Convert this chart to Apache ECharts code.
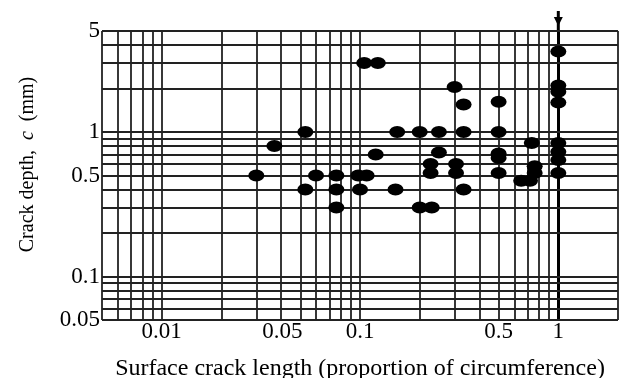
<!DOCTYPE html>
<html><head><meta charset="utf-8">
<script src="https://cdn.jsdelivr.net/npm/echarts@6/dist/echarts.min.js"></script>
<style>html,body{margin:0;padding:0;background:#fff}#c{width:622px;height:378px}</style>
</head><body><div id="c"></div>
<script>
// grid line positions (data values)
const xGrid = [0.005,0.006,0.007,0.008,0.009,0.01,0.02,0.03,0.04,0.05,0.06,0.07,0.08,0.09,0.1,0.2,0.3,0.4,0.5,0.6,0.7,0.8,0.9,1,2];
const yGrid = [0.05,0.06,0.07,0.08,0.09,0.1,0.2,0.3,0.4,0.5,0.6,0.7,0.8,0.9,1,2,3,4,5];
// tick labels
const xTickLabels = [0.01,0.05,0.1,0.5,1];
const yTickLabels = [0.05,0.1,0.5,1,5];
// data
const crackLength = [0.03,0.037,0.053,0.053,0.06,0.076,0.076,0.076,0.098,0.108,0.1,0.12,0.105,0.123,0.154,0.151,0.2,0.2,0.23,0.25,0.25,0.227,0.227,0.30,0.305,0.305,0.333,0.333,0.333,0.5,0.5,0.5,0.5,0.5,0.65,0.72,0.76,0.76,0.735,1,1,1,1,1,1,1,1];
const crackDepth  = [0.5,0.8,1.0,0.4,0.5,0.5,0.4,0.3,0.5,0.5,0.4,0.7,3.0,3.0,1.0,0.4,1.0,0.3,0.3,1.0,0.72,0.6,0.52,2.05,0.6,0.52,1.55,1.0,0.4,1.62,1.0,0.71,0.66,0.52,0.46,0.46,0.52,0.58,0.84,3.6,2.1,1.9,1.6,0.84,0.73,0.64,0.52];
const markerX = 1; // arrow marks full circumference

const X_MIN = 0.005, X_MAX = 2, Y_MIN = 0.05, Y_MAX = 5;

const points = crackLength.map((x, i) => [x, crackDepth[i]]);
const lineStyle = {color: '#222', width: 1.8, type: 'solid'};
const gridLines = [];
xGrid.forEach(x => {
  const item = [{coord: [x, Y_MIN]}, {coord: [x, Y_MAX]}];
  if (x === markerX) item[0].lineStyle = {color: '#000', width: 3};
  gridLines.push(item);
});
yGrid.forEach(y => gridLines.push([{coord: [X_MIN, y]}, {coord: [X_MAX, y]}]));

const font = 'Liberation Serif';
const chart = echarts.init(document.getElementById('c'));
chart.setOption({
  animation: false,
  grid: {left: 102, right: 4, top: 31, bottom: 58, containLabel: false, outerBoundsMode: 'none'},
  xAxis: {
    type: 'log', logBase: 10, min: X_MIN, max: X_MAX,
    axisLine: {show: false}, axisTick: {show: false}, splitLine: {show: false},
    axisLabel: {
      customValues: xTickLabels, margin: 0, color: '#000', fontFamily: font, fontSize: 23,
      formatter: v => (Math.abs(v - 0.05) < 1e-9 ? '{s|0.05}' : String(+v.toPrecision(3))),
      rich: {s: {fontFamily: font, fontSize: 23, color: '#000', padding: [0, 36, 0, 0]}}
    },
    name: 'Surface crack length (proportion of circumference)',
    nameLocation: 'middle', nameGap: 37,
    nameTextStyle: {fontFamily: font, fontSize: 24, color: '#000'}
  },
  yAxis: {
    type: 'log', logBase: 10, min: Y_MIN, max: Y_MAX,
    axisLine: {show: false}, axisTick: {show: false}, splitLine: {show: false},
    axisLabel: {customValues: yTickLabels, margin: 2, color: '#000', fontFamily: font, fontSize: 23,
      formatter: v => String(+v.toPrecision(3))},
    name: '{a|Crack depth,  }{i|c}{a|  (mm)}',
    nameLocation: 'middle', nameGap: 64,
    nameTextStyle: {padding: [0, 0, 0, 22], rich: {
      a: {fontFamily: font, fontSize: 20, color: '#000'},
      i: {fontFamily: font, fontSize: 20, color: '#000', fontStyle: 'italic'}
    }}
  },
  series: [{
    type: 'scatter', clip: false, silent: true,
    data: points, symbol: 'circle', symbolSize: [16, 12],
    itemStyle: {color: '#000', opacity: 1}, z: 3,
    markLine: {silent: true, symbol: 'none', animation: false,
      label: {show: false}, lineStyle: lineStyle, data: gridLines, z: 1}
  }]
});
// arrow above the x = 1 line, positioned through the chart's own scale
const pTop = chart.convertToPixel({gridIndex: 0}, [markerX, Y_MAX]);
chart.setOption({graphic: [
  {type: 'line', shape: {x1: pTop[0], y1: pTop[1] - 20, x2: pTop[0], y2: pTop[1]}, style: {stroke: '#000', lineWidth: 3}},
  {type: 'polygon', shape: {points: [[pTop[0] - 4.5, pTop[1] - 14], [pTop[0] + 4.5, pTop[1] - 14], [pTop[0], pTop[1] - 5]]}, style: {fill: '#000'}}
]});
</script></body></html>
